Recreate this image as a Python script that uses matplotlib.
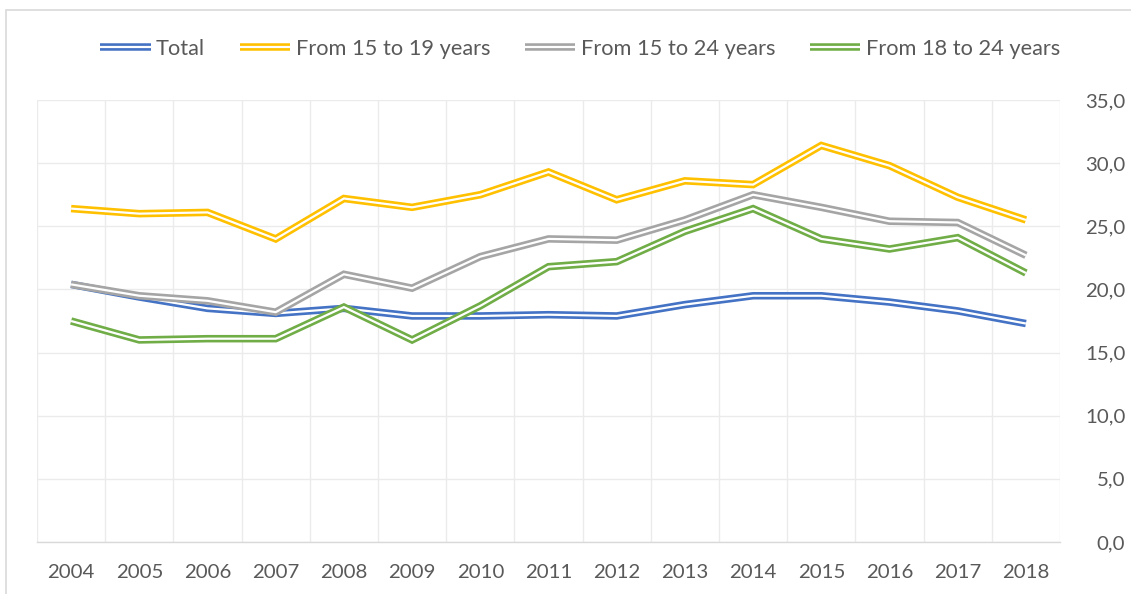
import matplotlib
matplotlib.use("Agg")
import matplotlib.pyplot as plt
import matplotlib.patheffects as pe
from matplotlib.patches import Rectangle
from matplotlib.ticker import MultipleLocator, FuncFormatter, FixedLocator

years = ["2004", "2005", "2006", "2007", "2008", "2009", "2010", "2011",
         "2012", "2013", "2014", "2015", "2016", "2017", "2018"]
total = [20.4, 19.4, 18.5, 18.1, 18.5, 17.9, 17.9, 18.0, 17.9, 18.8, 19.5, 19.5, 19.0, 18.3, 17.3]
age_15_19 = [26.4, 26.0, 26.1, 24.0, 27.2, 26.5, 27.5, 29.3, 27.1, 28.6, 28.3, 31.4, 29.8, 27.3, 25.5]
age_15_24 = [20.4, 19.5, 19.1, 18.2, 21.2, 20.1, 22.6, 24.0, 23.9, 25.5, 27.5, 26.5, 25.4, 25.3, 22.7]
age_18_24 = [17.5, 16.0, 16.1, 16.1, 18.6, 16.0, 18.7, 21.8, 22.2, 24.6, 26.4, 24.0, 23.2, 24.1, 21.3]

series = [
    ("Total", total, "#4472C4"),
    ("From 15 to 19 years", age_15_19, "#FFC000"),
    ("From 15 to 24 years", age_15_24, "#A5A5A5"),
    ("From 18 to 24 years", age_18_24, "#70AD47"),
]

FONT = "Lato"
TXT = "#595959"

fig = plt.figure(figsize=(11.31, 5.94), dpi=100)
ax = fig.add_axes([37/1131, 1-542/594, (1060-37)/1131, (542-100)/594])

x = list(range(len(years)))
for i, (name, vals, col) in enumerate(series):
    ax.plot(x, vals, color="white", lw=1.6, label=name, zorder=3+i,
            solid_joinstyle="miter", solid_capstyle="butt",
            path_effects=[pe.Stroke(linewidth=5.4, foreground=col,
                                    joinstyle="miter", capstyle="butt"),
                          pe.Normal()])

ax.set_xlim(-0.5, len(years)-0.5)
ax.set_ylim(0, 35)
ax.set_xticks(x)
ax.set_xticklabels(years)
ax.xaxis.set_minor_locator(FixedLocator([k-0.5 for k in range(len(years)+1)]))
ax.yaxis.set_major_locator(MultipleLocator(5))
ax.yaxis.set_major_formatter(FuncFormatter(lambda v, p: f"{v:.1f}".replace(".", ",")))
ax.yaxis.tick_right()

ax.grid(True, which="minor", axis="x", color="#EBEBEB", lw=1.0)
ax.grid(True, which="major", axis="y", color="#EBEBEB", lw=1.0)
ax.set_axisbelow(True)
for s in ["top", "left", "right"]:
    ax.spines[s].set_visible(False)
ax.spines["bottom"].set_color("#D9D9D9")
ax.spines["bottom"].set_linewidth(1.0)

ax.tick_params(axis="both", which="both", length=0, colors=TXT, labelsize=14.7)
ax.tick_params(axis="x", pad=16)
ax.tick_params(axis="y", pad=47)
for lab in ax.get_yticklabels():
    lab.set_ha("right")
    lab.set_fontfamily(FONT)
for lab in ax.get_xticklabels():
    lab.set_fontfamily(FONT)

handles, labels = ax.get_legend_handles_labels()
leg = fig.legend(handles, labels, loc="center", bbox_to_anchor=(0.513, 1-49/594),
                 ncol=4, frameon=False, handlelength=2.3, handletextpad=0.25,
                 columnspacing=1.6, prop={"family": FONT, "size": 15.7})
for t in leg.get_texts():
    t.set_color(TXT)

fig.patches.append(Rectangle((6/1131, -0.1), 1.2, 1.1 - 10/594,
                             transform=fig.transFigure, fill=False,
                             edgecolor="#D9D9D9", lw=1.2))

fig.savefig("out.png", dpi=100)
